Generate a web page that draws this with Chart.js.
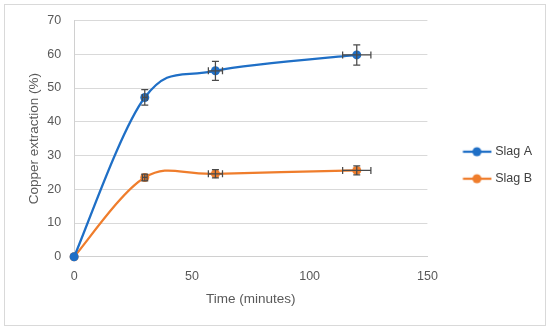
<!DOCTYPE html>
<html>
<head>
<meta charset="utf-8">
<script src="https://cdn.jsdelivr.net/npm/chart.js@4.4.1/dist/chart.umd.min.js"></script>
<style>
  body { margin: 0; background: #fff; }
  #wrap { width: 550px; height: 330px; }
</style>
</head>
<body>
<div id="wrap"><canvas id="myChart"></canvas></div>
<script>
var timeValues = [0, 30, 60, 120];
var slagA = [0, 47.2, 55.1, 59.8];
var slagB = [0, 23.5, 24.6, 25.6];
var slagAxErr = [0, 1, 3, 6];
var slagAyErr = [0, 2.3, 2.8, 3];
var slagBxErr = [0, 1, 3, 6];
var slagByErr = [0, 1, 1.2, 1.3];
var xTicks = [0, 50, 100, 150];
var yTicks = [0, 10, 20, 30, 40, 50, 60, 70];

var blue = "#1f6fc6";
var orange = "#ef7d2c";
var textColor = "#595959";
var font = "Liberation Sans";

function points(ys) {
  return timeValues.map(function (t, i) { return { x: t, y: ys[i] }; });
}

// legend icon: line with a dot, left part transparent so the text lines up
function legendIcon(color) {
  var c = document.createElement("canvas");
  c.width = 54;
  c.height = 12;
  var g = c.getContext("2d");
  g.strokeStyle = color;
  g.lineWidth = 2.25;
  g.beginPath();
  g.moveTo(24.5, 6);
  g.lineTo(53, 6);
  g.stroke();
  g.fillStyle = color;
  g.beginPath();
  g.arc(38.5, 6, 4.5, 0, Math.PI * 2);
  g.fill();
  return c;
}

var errors = [
  { x: slagAxErr, y: slagAyErr },
  { x: slagBxErr, y: slagByErr }
];

var errorBars = {
  id: "errorBars",
  afterDatasetsDraw: function (chart) {
    var ctx = chart.ctx;
    var xs = chart.scales.x, ys = chart.scales.y;
    var cap = 3.5;
    ctx.save();
    ctx.strokeStyle = "#4a4a4a";
    ctx.lineWidth = 1.25;
    chart.data.datasets.forEach(function (ds, i) {
      ds.data.forEach(function (p, j) {
        var ex = errors[i].x[j], ey = errors[i].y[j];
        var cx = xs.getPixelForValue(p.x), cy = ys.getPixelForValue(p.y);
        if (ey > 0) {
          var y1 = ys.getPixelForValue(p.y + ey), y2 = ys.getPixelForValue(p.y - ey);
          ctx.beginPath();
          ctx.moveTo(cx, y1); ctx.lineTo(cx, y2);
          ctx.moveTo(cx - cap, y1); ctx.lineTo(cx + cap, y1);
          ctx.moveTo(cx - cap, y2); ctx.lineTo(cx + cap, y2);
          ctx.stroke();
        }
        if (ex > 0) {
          var x1 = xs.getPixelForValue(p.x - ex), x2 = xs.getPixelForValue(p.x + ex);
          ctx.beginPath();
          ctx.moveTo(x1, cy); ctx.lineTo(x2, cy);
          ctx.moveTo(x1, cy - cap); ctx.lineTo(x1, cy + cap);
          ctx.moveTo(x2, cy - cap); ctx.lineTo(x2, cy + cap);
          ctx.stroke();
        }
      });
    });
    ctx.restore();
  }
};

// spreadsheet-style smoothing: control points at 1/6 of the neighbour chord
var smooth = {
  id: "smooth",
  beforeDatasetDraw: function (chart, args) {
    var pts = args.meta.data;
    var n = pts.length;
    for (var i = 0; i < n; i++) {
      var prev = pts[Math.max(i - 1, 0)], next = pts[Math.min(i + 1, n - 1)];
      var dx = (next.x - prev.x) / 6, dy = (next.y - prev.y) / 6;
      pts[i].cp1x = pts[i].x - dx; pts[i].cp1y = pts[i].y - dy;
      pts[i].cp2x = pts[i].x + dx; pts[i].cp2y = pts[i].y + dy;
    }
    args.meta.dataset._pointsUpdated = true;
    args.meta.dataset._path = undefined;
  }
};

var frame = {
  id: "frame",
  beforeDraw: function (chart) {
    var ctx = chart.ctx;
    ctx.save();
    ctx.strokeStyle = "#d9d9d9";
    ctx.lineWidth = 1;
    ctx.strokeRect(4.5, 4.5, 541, 321);
    ctx.restore();
  }
};

var icons = [legendIcon(blue), legendIcon(orange)];

new Chart("myChart", {
  type: "scatter",
  data: {
    datasets: [{
      label: "Slag A",
      data: points(slagA),
      borderColor: blue,
      backgroundColor: blue,
      showLine: true,
      tension: 0.4,
      borderWidth: 2.25,
      pointRadius: 4.5,
      pointBorderWidth: 0
    }, {
      label: "Slag B",
      data: points(slagB),
      borderColor: orange,
      backgroundColor: orange,
      showLine: true,
      tension: 0.4,
      borderWidth: 2.25,
      pointRadius: 4.5,
      pointBorderWidth: 0
    }]
  },
  options: {
    responsive: true,
    maintainAspectRatio: false,
    animation: false,
    clip: false,
    layout: { padding: { left: 10, right: 8, top: 19.5, bottom: 19 } },
    scales: {
      x: {
        type: "linear",
        min: 0,
        max: 150,
        afterBuildTicks: function (s) { s.ticks = xTicks.map(function (v) { return { value: v }; }); },
        grid: { display: false, drawTicks: false },
        border: { color: "#d0d0d0" },
        ticks: { color: textColor, font: { family: font, size: 12.5 }, padding: 12 },
        title: { display: true, text: "Time (minutes)", color: textColor, font: { family: font, size: 13.5 }, padding: { top: -5, bottom: 4 } }
      },
      y: {
        min: 0,
        max: 70,
        afterBuildTicks: function (s) { s.ticks = yTicks.map(function (v) { return { value: v }; }); },
        grid: { color: "#d9d9d9", drawTicks: false },
        border: { color: "#d0d0d0" },
        ticks: { color: textColor, font: { family: font, size: 12.5 }, padding: 13 },
        title: { display: true, text: "Copper extraction (%)", color: textColor, font: { family: font, size: 13.5 }, padding: { top: 16, bottom: -8 } }
      }
    },
    plugins: {
      tooltip: { enabled: false },
      legend: {
        position: "right",
        labels: {
          usePointStyle: true,
          pointStyleWidth: 47,
          padding: 14.5,
          color: "#404040",
          font: { family: font, size: 12.5 },
          generateLabels: function (chart) {
            var items = Chart.defaults.plugins.legend.labels.generateLabels(chart);
            items.forEach(function (it, i) { it.pointStyle = icons[i]; });
            return items;
          }
        }
      }
    }
  },
  plugins: [frame, smooth, errorBars]
});
</script>
</body>
</html>
